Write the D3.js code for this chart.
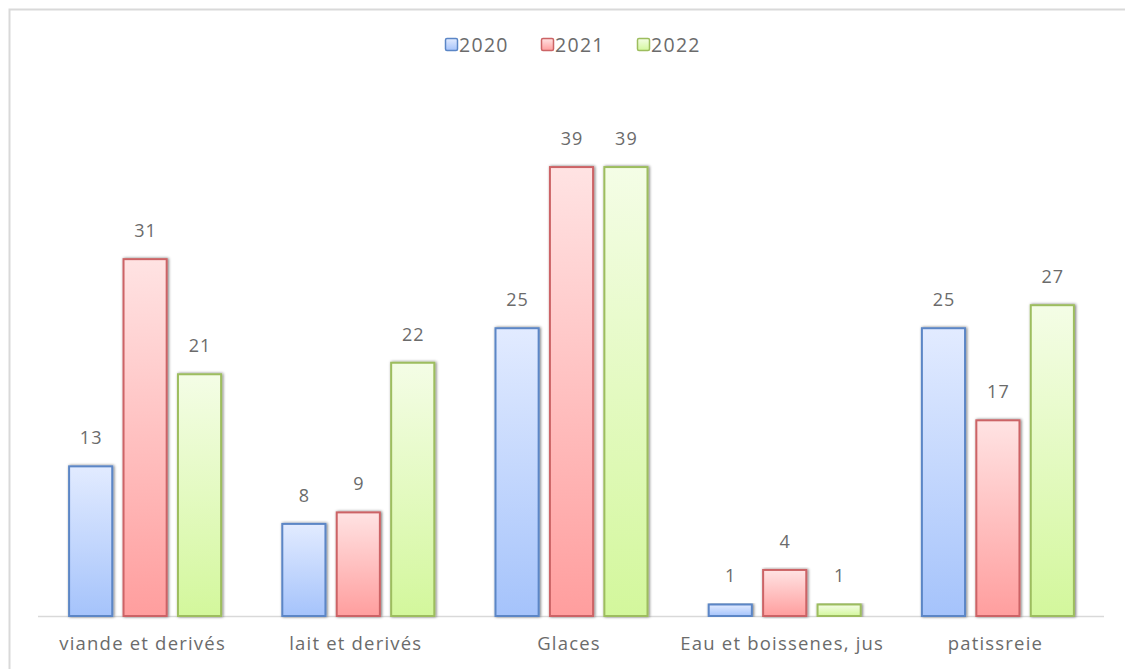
<!DOCTYPE html>
<html>
<head>
<meta charset="utf-8">
<script src="https://cdn.jsdelivr.net/npm/d3@7"></script>
<style>
  html, body { margin: 0; padding: 0; background: #fff; }
  svg { display: block; font-family: "Open Sans", "Noto Sans", sans-serif; }
</style>
</head>
<body>
<svg id="chart" width="1125" height="669"></svg>
<script>
// Product categories and yearly counts
const categories = ["viande et derivés", "lait et derivés", "Glaces", "Eau et boissenes, jus", "patissreie"];
const years = ["2020", "2021", "2022"];
const values2020 = [13, 8, 25, 1, 25];
const values2021 = [31, 9, 39, 4, 17];
const values2022 = [21, 22, 39, 1, 27];
const yTicks = [0, 45];

const seriesValues = [values2020, values2021, values2022];
const palette = [
  { top: "#e2ebff", bottom: "#a5c3fb", stroke: "#5b86c6" },
  { top: "#ffe3e3", bottom: "#ff9e9e", stroke: "#cc6466" },
  { top: "#f4fde6", bottom: "#d3f79c", stroke: "#9dbd5e" }
];
const textColor = "#6b6b6b";

const svg = d3.select("#chart");
const W = 1125, H = 669;
const plot = { left: 38, right: 1104, top: 98, bottom: 616 };

const x0 = d3.scaleBand().domain(categories).range([plot.left, plot.right]).paddingInner(0.28).paddingOuter(0.14);
const x1 = d3.scaleBand().domain(years).range([0, x0.bandwidth()]).paddingInner(0.18);
const y = d3.scaleLinear().domain(d3.extent(yTicks)).range([plot.bottom, plot.top]);

const defs = svg.append("defs");
palette.forEach((p, i) => {
  const g = defs.append("linearGradient").attr("id", "grad" + i)
    .attr("x1", 0).attr("y1", 0).attr("x2", 0).attr("y2", 1);
  g.append("stop").attr("offset", "0%").attr("stop-color", p.top);
  g.append("stop").attr("offset", "100%").attr("stop-color", p.bottom);
});
const shadow = defs.append("filter").attr("id", "shadow")
  .attr("x", "-20%").attr("y", "-5%").attr("width", "140%").attr("height", "110%");
shadow.append("feGaussianBlur").attr("in", "SourceAlpha").attr("stdDeviation", 1.8).attr("result", "b");
shadow.append("feOffset").attr("in", "b").attr("dx", 1).attr("dy", 0).attr("result", "o");
shadow.append("feComponentTransfer").attr("in", "o").attr("result", "s")
  .append("feFuncA").attr("type", "linear").attr("slope", 0.55);
const merge = shadow.append("feMerge");
merge.append("feMergeNode").attr("in", "s");
merge.append("feMergeNode").attr("in", "SourceGraphic");

// Chart frame
svg.append("path")
  .attr("d", `M9.5,${H} L9.5,9.5 L${W},9.5`)
  .attr("fill", "none").attr("stroke", "#d9d9d9").attr("stroke-width", 2);

// Category axis line
svg.append("line")
  .attr("x1", plot.left).attr("x2", plot.right)
  .attr("y1", y(0) + 0.5).attr("y2", y(0) + 0.5)
  .attr("stroke", "#d9d9d9").attr("stroke-width", 1.5);

// Bars
const groups = svg.append("g").selectAll("g")
  .data(categories)
  .join("g")
  .attr("transform", d => `translate(${x0(d)},0)`);

groups.selectAll("rect")
  .data((c, ci) => years.map((yr, si) => ({ yr, si, v: seriesValues[si][ci] })))
  .join("rect")
  .attr("x", d => x1(d.yr) + 1.25)
  .attr("y", d => y(d.v))
  .attr("width", x1.bandwidth() - 1.5)
  .attr("height", d => y(0) - y(d.v))
  .attr("fill", d => `url(#grad${d.si})`)
  .attr("stroke", d => palette[d.si].stroke)
  .attr("stroke-width", 2)
  .attr("filter", "url(#shadow)");

// Value labels
groups.selectAll("text.val")
  .data((c, ci) => years.map((yr, si) => ({ yr, si, v: seriesValues[si][ci] })))
  .join("text")
  .attr("class", "val")
  .attr("x", d => x1(d.yr) + x1.bandwidth() / 2 + 1)
  .attr("y", d => y(d.v) - 22)
  .attr("text-anchor", "middle")
  .attr("font-size", 18)
  .attr("letter-spacing", 1)
  .attr("fill", textColor)
  .text(d => d.v);

// Category labels
svg.append("g").selectAll("text")
  .data(categories)
  .join("text")
  .attr("x", d => x0(d) + x0.bandwidth() / 2 - 2)
  .attr("y", 650)
  .attr("text-anchor", "middle")
  .attr("font-size", 18.5)
  .attr("letter-spacing", 1.2)
  .attr("fill", textColor)
  .text(d => d);

// Legend
const legendX = [445, 541, 637];
const legend = svg.append("g").selectAll("g")
  .data(years)
  .join("g")
  .attr("transform", (d, i) => `translate(${legendX[i]},38)`);
legend.append("rect")
  .attr("x", 0.5).attr("y", 0.5).attr("width", 12).attr("height", 12).attr("rx", 1.5)
  .attr("fill", (d, i) => `url(#grad${i})`)
  .attr("stroke", (d, i) => palette[i].stroke).attr("stroke-width", 1.5);
legend.append("text")
  .attr("x", 14).attr("y", 13.5)
  .attr("font-size", 19.5)
  .attr("letter-spacing", 1.3)
  .attr("fill", textColor)
  .text(d => d);
</script>
</body>
</html>
